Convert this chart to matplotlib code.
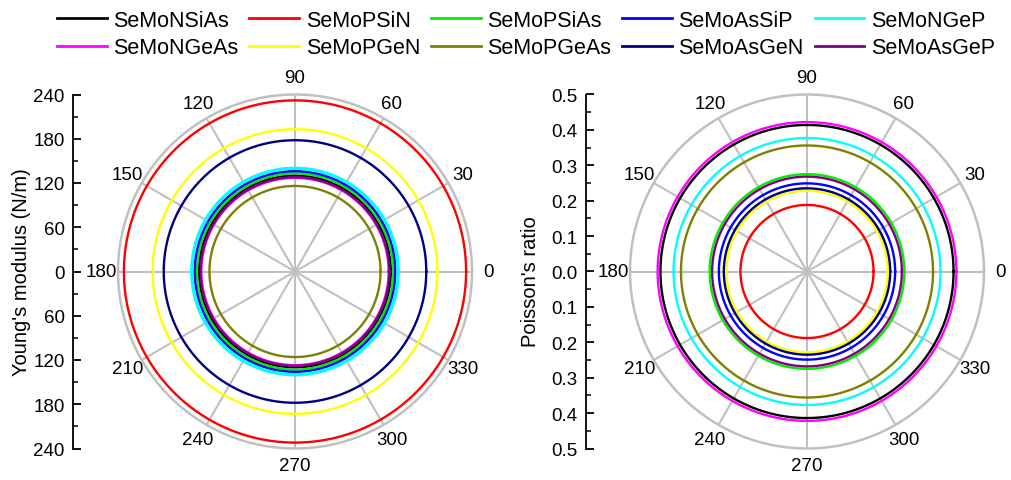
import numpy as np
import matplotlib.pyplot as plt
from matplotlib.ticker import MultipleLocator, FuncFormatter

plt.rcParams['font.family'] = ['Liberation Sans', 'DejaVu Sans']

# materials and colours (legend order)
names = ['SeMoNSiAs', 'SeMoPSiN', 'SeMoPSiAs', 'SeMoAsSiP', 'SeMoNGeP',
         'SeMoNGeAs', 'SeMoPGeN', 'SeMoPGeAs', 'SeMoAsGeN', 'SeMoAsGeP']
colors = ['#000000', '#ff0000', '#00ee00', '#0000ff', '#00ffff',
          '#ff00ff', '#ffff00', '#808000', '#000080', '#800080']

# Young's modulus (N/m), isotropic -> one radius per material
young = [130, 232, 133, 136, 140, 127, 193, 116, 178, 128]
# Poisson's ratio, isotropic
poisson = [0.414, 0.188, 0.275, 0.249, 0.377, 0.422, 0.228, 0.356, 0.235, 0.268]

angle_ticks = list(range(0, 360, 30))
theta = np.deg2rad(np.arange(0, 361, 1))

W, H = 1011, 481
fig = plt.figure(figsize=(W / 100, H / 100), dpi=100)

R = 177
cy = 272.5
bottom = (H - cy - R) / H
height = 2 * R / H
grey = '#c0c0c0'


def polar_panel(cx, values, rmax):
    ax = fig.add_axes([(cx - R) / W, bottom, 2 * R / W, height], projection='polar')
    for v, c, n in zip(values, colors, names):
        lw = 2.4 if (c == '#00ffff' and rmax > 1) else 1.7
        ax.plot(theta, np.full_like(theta, v), color=c, lw=lw, label=n)
    ax.set_rlim(0, rmax)
    ax.set_yticks([])
    ax.set_xticks(np.deg2rad(angle_ticks))
    ax.set_xticklabels([str(a) for a in angle_ticks], fontsize=13.5)
    ax.set_xticks(np.deg2rad(np.arange(15, 360, 30)), minor=True)
    ax.xaxis.grid(True, color=grey, lw=1.5)
    ax.tick_params(axis='x', which='major', length=0, pad=5)
    ax.tick_params(axis='x', which='minor', direction='in', length=5,
                   width=1.3, color=grey)
    ax.spines['polar'].set_color(grey)
    ax.spines['polar'].set_linewidth(1.8)
    return ax


def side_axis(xline, rmax, major, minor, fmt, label, lx, ly):
    ax = fig.add_axes([xline / W, bottom, 0.0005, height])
    ax.set_ylim(-rmax, rmax)
    ax.yaxis.set_major_locator(MultipleLocator(major))
    ax.yaxis.set_minor_locator(MultipleLocator(minor))
    ax.yaxis.set_major_formatter(FuncFormatter(lambda v, p: fmt.format(abs(v))))
    for s in ['top', 'right', 'bottom']:
        ax.spines[s].set_visible(False)
    ax.spines['left'].set_linewidth(1.3)
    ax.set_xticks([])
    ax.patch.set_visible(False)
    ax.tick_params(axis='y', which='major', direction='in', length=6, width=1.3,
                   labelsize=13.5, pad=6)
    ax.tick_params(axis='y', which='minor', direction='in', length=3.5, width=1.1)
    fig.text(lx / W, 1 - ly / H, label, rotation=90, ha='center', va='center',
             fontsize=14.5)


axl = polar_panel(295, young, 240)
axr = polar_panel(807, poisson, 0.5)

side_axis(73, 240, 60, 30, '{:.0f}', "Young's modulus (N/m)", 22, 272)
side_axis(586, 0.5, 0.1, 0.05, '{:.1f}', "Poisson's ratio", 530, 282)

# legend is filled row by row in the reference; matplotlib fills columns
handles, labels = axl.get_legend_handles_labels()
order = [0, 5, 1, 6, 2, 7, 3, 8, 4, 9]
leg = fig.legend([handles[i] for i in order], [labels[i] for i in order],
                 loc='center', bbox_to_anchor=(526 / W, 1 - 35 / H),
                 ncol=5, frameon=False, fontsize=15.5, handlelength=2.3,
                 handletextpad=0.32, columnspacing=0.5, labelspacing=0.3,
                 borderpad=0)
for line in leg.get_lines():
    line.set_linewidth(2)

fig.savefig('out.png', dpi=100)
